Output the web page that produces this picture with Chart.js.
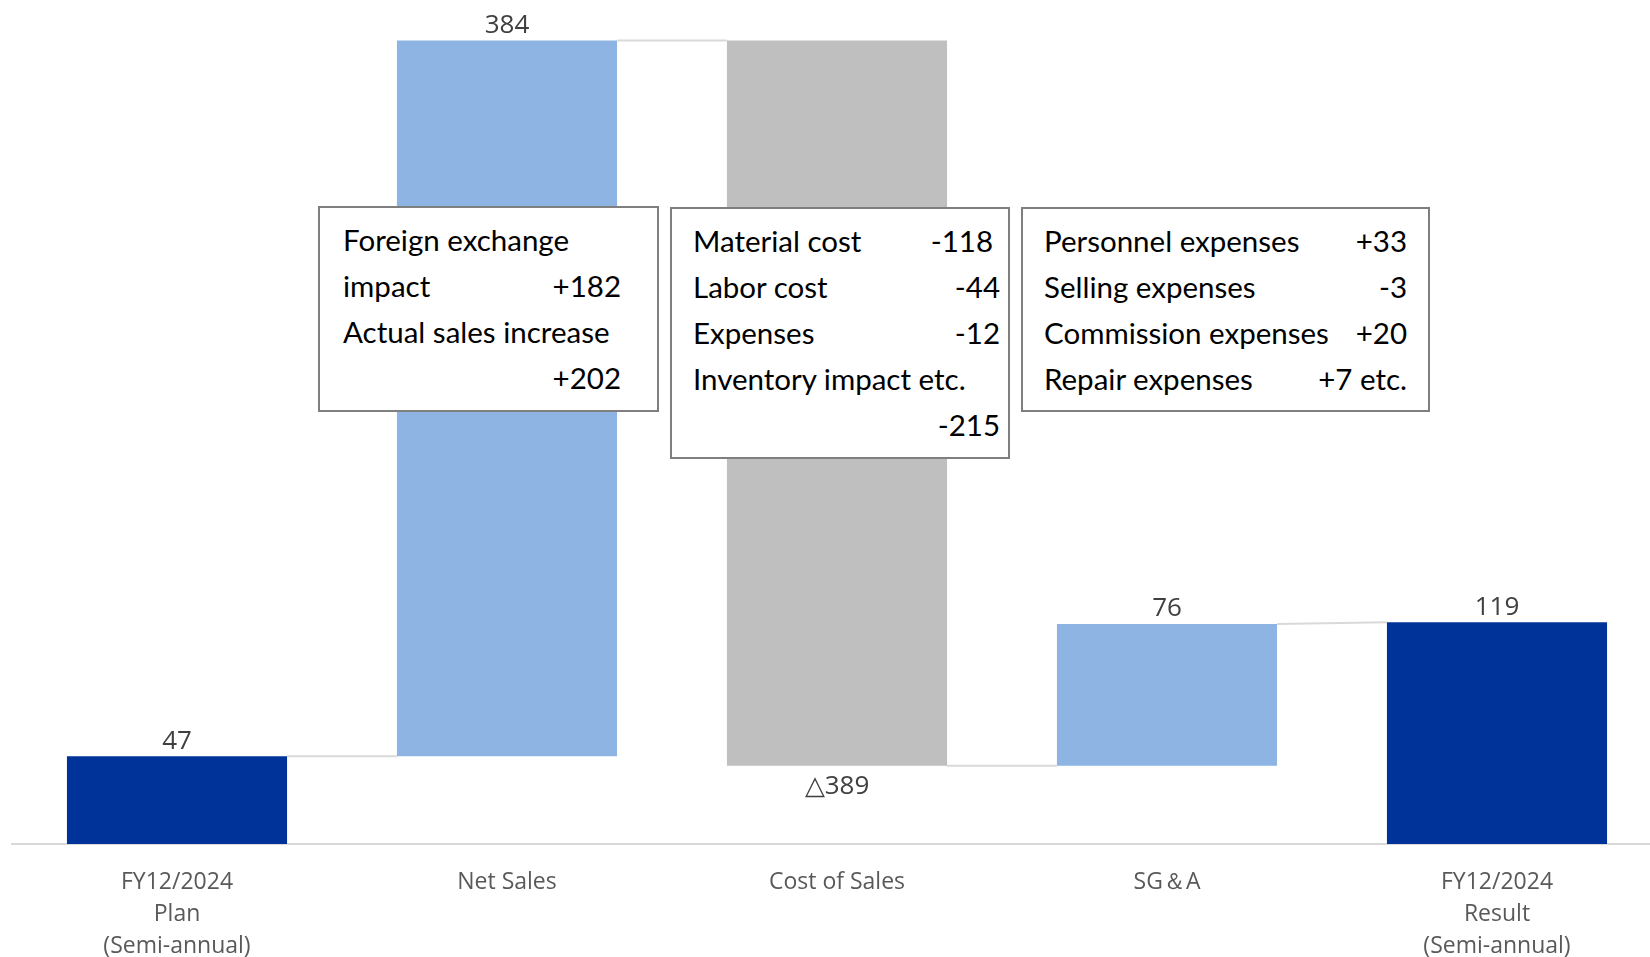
<!DOCTYPE html>
<html>
<head>
<meta charset="utf-8">
<script src="https://cdn.jsdelivr.net/npm/chart.js@4.4.1/dist/chart.umd.min.js"></script>
<style>
  html, body { margin: 0; padding: 0; background: #ffffff; overflow: hidden; width: 1650px; height: 957px; }
  #wrap { position: absolute; left: 0; top: 0; width: 1664px; height: 957px; }
  .note { position: absolute; box-sizing: border-box; border: 2px solid #7f7f7f; background: #ffffff;
          font-family: "Lato", "Open Sans", sans-serif; font-size: 29.5px; color: #000000; }
  .row { position: relative; height: 46px; line-height: 46px; white-space: nowrap; }
  .row .l { position: absolute; left: 0; }
  .row .r { position: absolute; right: 0; }
  #n2 .row:first-child .r { right: 7px; }
</style>
</head>
<body>
<div id="wrap"><canvas id="c" width="1664" height="957"></canvas></div>
<div class="note" id="n1" style="left:318px; top:206px; width:341px; height:206px; padding:9px 36px 0 23px;"></div>
<div class="note" id="n2" style="left:670px; top:207px; width:340px; height:252px; padding:9px 8px 0 21px;"></div>
<div class="note" id="n3" style="left:1021px; top:207px; width:409px; height:205px; padding:9px 21px 0 21px;"></div>
<script>
// ---- data ----
const categories = [["FY12/2024", "Plan", "(Semi-annual)"], "Net Sales", "Cost of Sales", "SG\uFF06A", ["FY12/2024", "Result", "(Semi-annual)"]];
const values = [47, 384, -389, 76, 119];
const kinds = ["total", "delta", "delta", "delta", "total"];
const valueLabels = ["47", "384", "\u25B3389", "76", "119"];
const note1Rows = [["Foreign exchange", ""], ["impact", "+182"], ["Actual sales increase", ""], ["", "+202"]];
const note2Rows = [["Material cost", "-118"], ["Labor cost", "-44"], ["Expenses", "-12"], ["Inventory impact etc.", ""], ["", "-215"]];
const note3Rows = [["Personnel expenses", "+33"], ["Selling expenses", "-3"], ["Commission expenses", "+20"], ["Repair expenses", "+7 etc."]];

// ---- build floating ranges ----
const ranges = [];
const levels = [];
let running = 0;
values.forEach((v, i) => {
  if (kinds[i] === "total") { ranges.push([0, v]); running = v; }
  else { ranges.push([running, running + v]); running += v; }
  levels.push(running);
});

function colorFor(i) {
  if (kinds[i] === "total") return "#003399";
  return values[i] < 0 ? "#bfbfbf" : "#8eb4e3";
}

const connectorPlugin = {
  id: "connectors",
  beforeDatasetsDraw(chart) {
    const meta = chart.getDatasetMeta(0);
    const ys = chart.scales.y;
    const ctx = chart.ctx;
    ctx.save();
    ctx.strokeStyle = "#d9d9d9";
    ctx.lineWidth = 2;
    for (let i = 0; i < meta.data.length - 1; i++) {
      const a = meta.data[i], b = meta.data[i + 1];
      const y1 = ys.getPixelForValue(levels[i]);
      const y2 = kinds[i + 1] === "total" ? ys.getPixelForValue(values[i + 1]) : ys.getPixelForValue(levels[i]);
      ctx.beginPath();
      ctx.moveTo(a.x + a.width / 2, y1);
      ctx.lineTo(b.x - b.width / 2, y2);
      ctx.stroke();
    }
    ctx.restore();
  },
  afterDatasetsDraw(chart) {
    const meta = chart.getDatasetMeta(0);
    const ctx = chart.ctx;
    ctx.save();
    ctx.fillStyle = "#404040";
    ctx.font = '26px "Open Sans", sans-serif';
    ctx.textAlign = "center";
    ctx.textBaseline = "middle";
    meta.data.forEach((el, i) => {
      const top = Math.min(el.y, el.base);
      const bottom = Math.max(el.y, el.base);
      if (values[i] < 0) ctx.fillText(valueLabels[i], el.x, bottom + 21);
      else ctx.fillText(valueLabels[i], el.x, top - 15);
    });
    ctx.restore();
  }
};

new Chart(document.getElementById("c"), {
  type: "bar",
  data: {
    labels: categories,
    datasets: [{
      data: ranges,
      backgroundColor: values.map((v, i) => colorFor(i)),
      borderWidth: 0,
      barPercentage: 0.667,
      categoryPercentage: 1.0
    }]
  },
  options: {
    responsive: false,
    animation: false,
    devicePixelRatio: 1,
    layout: { padding: { left: 12, right: 2, top: 5, bottom: 0 } },
    plugins: { legend: { display: false }, tooltip: { enabled: false } },
    scales: {
      x: {
        grid: { display: false, drawTicks: false },
        border: { display: true, color: "#d9d9d9", width: 2 },
        ticks: {
          color: "#595959",
          font: { family: "'Open Sans', sans-serif", size: 23, lineHeight: "32px" },
          padding: 22,
          maxRotation: 0,
          autoSkip: false
        },
        afterFit(scale) { scale.height = 113; }
      },
      y: { display: false, min: 0, max: 450 }
    }
  },
  plugins: [connectorPlugin]
});

function fillNote(id, rows) {
  const box = document.getElementById(id);
  rows.forEach(r => {
    const d = document.createElement("div");
    d.className = "row";
    const l = document.createElement("span"); l.className = "l"; l.textContent = r[0];
    const rr = document.createElement("span"); rr.className = "r"; rr.textContent = r[1];
    d.appendChild(l); d.appendChild(rr);
    box.appendChild(d);
  });
}
fillNote("n1", note1Rows);
fillNote("n2", note2Rows);
fillNote("n3", note3Rows);
</script>
</body>
</html>
